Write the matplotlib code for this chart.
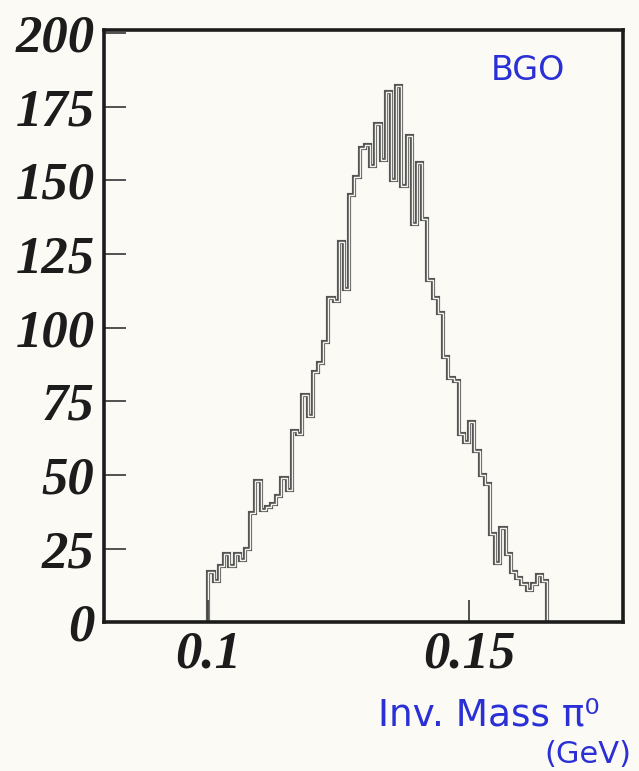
import numpy as np
import matplotlib
matplotlib.use("Agg")
import matplotlib.pyplot as plt

# pi0 invariant mass, BGO calorimeter: counts per 1 MeV bin from 0.100 to 0.165 GeV
bin_lo = 0.100
bin_hi = 0.165
counts = [17, 14, 19, 23, 19, 23, 21, 25, 37, 48,
          38, 39, 40, 43, 49, 45, 65, 64, 77, 70,
          85, 88, 95, 110, 109, 129, 113, 145, 151, 161,
          162, 155, 169, 157, 180, 150, 182, 148, 165, 135,
          156, 137, 116, 110, 105, 90, 83, 82, 64, 61,
          68, 58, 50, 47, 30, 20, 32, 23, 17, 15,
          13, 11, 13, 16, 14]
y_ticks = [0, 25, 50, 75, 100, 125, 150, 175, 200]
x_ticks = [0.1, 0.15]
x_ticklabels = ["0.1", "0.15"]

paper = "#fbfaf5"
ink = "#1c1c1c"
pen = "#2b2fd6"

edges = np.linspace(bin_lo, bin_hi, len(counts) + 1)

fig = plt.figure(figsize=(6.39, 7.71), dpi=100, facecolor=paper)
ax = fig.add_axes([0.163, 0.193, 0.812, 0.768], facecolor=paper)

# hollow-looking histogram outline like the printed original
ax.stairs(counts, edges, baseline=0, color="#555555", lw=3.0)
ax.stairs(counts, edges, baseline=0, color="#f3f2ec", lw=1.0)

ax.set_xlim(0.08, 0.1795)
ax.set_ylim(0, 201)

for s in ax.spines.values():
    s.set_linewidth(2.6)
    s.set_color(ink)

tick_font = dict(family="Liberation Serif", weight="bold", style="italic", size=38)
ax.set_yticks(y_ticks)
ax.set_yticklabels([str(v) for v in y_ticks], fontdict=tick_font)
ax.set_xticks(x_ticks)
ax.set_xticklabels(x_ticklabels, fontdict=tick_font)
ax.tick_params(axis="both", direction="in", length=16, width=1.3, color="#444444",
               labelcolor=ink)
ax.tick_params(axis="y", pad=7)
ax.tick_params(axis="x", pad=6)
ax.minorticks_off()

# handwritten notes in blue
fig.text(0.826, 0.909, "BGO", color=pen, fontsize=24, family="DejaVu Sans",
         ha="center", va="center")
fig.text(0.765, 0.072, "Inv. Mass \u03c0\u2070", color=pen, fontsize=27,
         family="DejaVu Sans", ha="center", va="center")
fig.text(0.920, 0.021, "(GeV)", color=pen, fontsize=22, family="DejaVu Sans",
         ha="center", va="center")

fig.savefig("out.png", dpi=100, facecolor=paper)
